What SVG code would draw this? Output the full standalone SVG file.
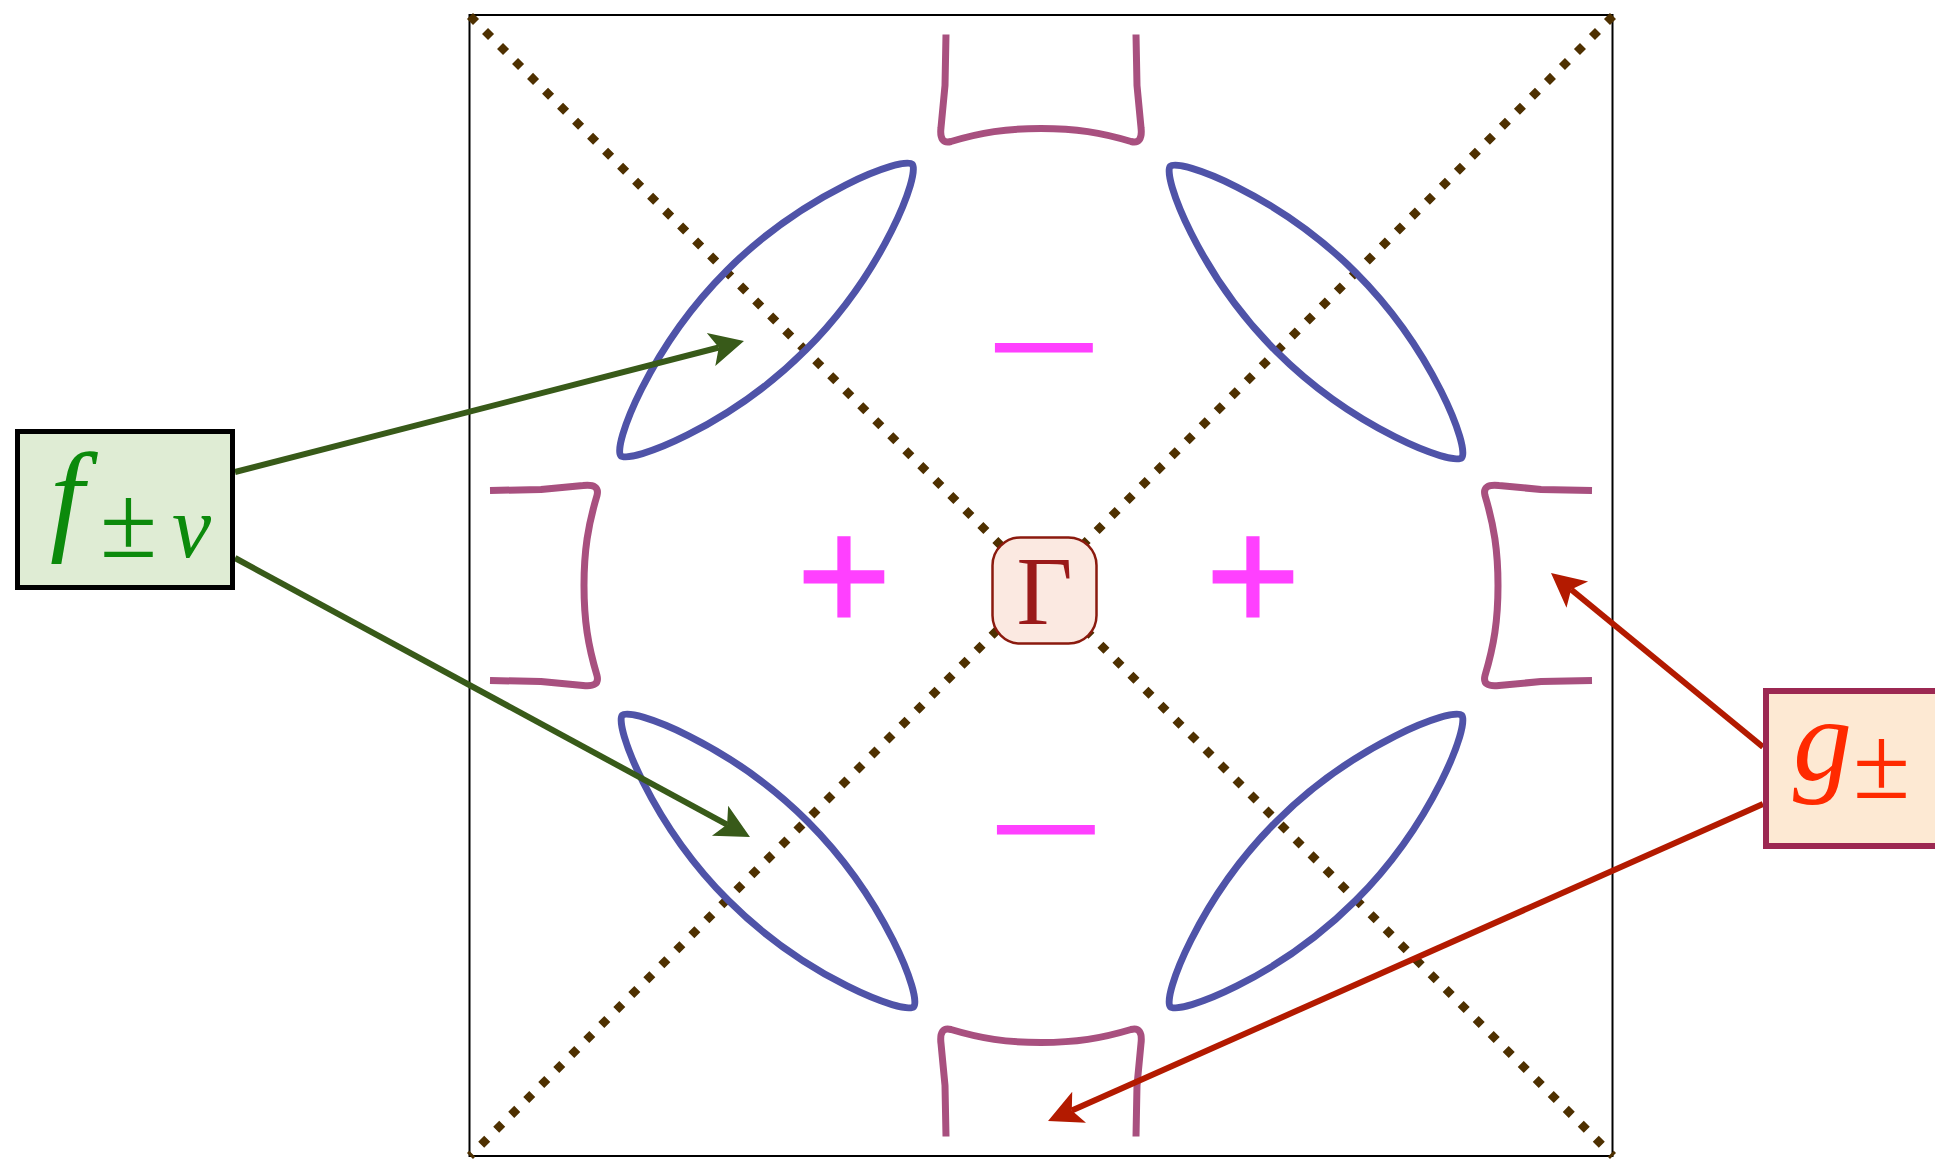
<svg xmlns="http://www.w3.org/2000/svg" width="1935" height="1162" viewBox="0 0 1935 1162">
<defs>
<style>
.frame{fill:none;stroke:#000;stroke-width:2}
.diag{fill:none;stroke:#4e3000;stroke-width:8.5;stroke-dasharray:8.5 12.7}
.lens{fill:none;stroke:#4f53a8;stroke-width:7;stroke-linejoin:round}
.pocket{fill:none;stroke:#a8507f;stroke-width:7;stroke-linejoin:round}
.sign{font-family:"DejaVu Sans",sans-serif;fill:#ff40ff;text-anchor:middle}
.plus{stroke:#ff40ff;stroke-width:3}
.serif{font-family:"Liberation Serif","DejaVu Serif",serif}
.it{font-style:italic}
.green{fill:none;stroke:#385a19;stroke-width:6}
.red{fill:none;stroke:#b31a00;stroke-width:6}
</style>
<path id="lensShape" d="M -206,0 C -206,-12 -110,-56 0,-56 C 110,-56 206,-12 206,0 C 206,12 110,56 0,56 C -110,56 -206,12 -206,0 Z"/>
<path id="pocketShape" d="M -95,-551 L -96,-500 L -100,-458 Q -102,-441 -90,-444 C -60,-453 -35,-457 0,-457 C 35,-457 60,-453 90,-444 Q 102,-441 100,-458 L 96,-500 L 95,-551"/>
<marker id="ahG" markerUnits="userSpaceOnUse" markerWidth="40" markerHeight="40" viewBox="0 -20 40 40" refX="8" refY="0" orient="auto">
<path d="M0,-17 L34,0 L0,17 L8,0 Z" fill="#385a19"/>
</marker>
<marker id="ahR" markerUnits="userSpaceOnUse" markerWidth="40" markerHeight="40" viewBox="0 -20 40 40" refX="8" refY="0" orient="auto">
<path d="M0,-17 L34,0 L0,17 L8,0 Z" fill="#b31a00"/>
</marker>
</defs>
<rect width="1935" height="1162" fill="#fff"/>
<g id="zone">
<rect class="frame" x="469.5" y="15" width="1143" height="1141"/>
<line class="diag" x1="470" y1="16" x2="1613" y2="1156"/>
<line class="diag" x1="1613" y1="16" x2="470" y2="1156"/>
</g>
<g id="pockets">
<use href="#pocketShape" class="pocket" transform="translate(1041,585.5)"/>
<use href="#pocketShape" class="pocket" transform="translate(1041,585.5) rotate(-90)"/>
<use href="#pocketShape" class="pocket" transform="translate(1041,585.5) rotate(90)"/>
<use href="#pocketShape" class="pocket" transform="translate(1041,585.5) rotate(180)"/>
</g>
<g id="lenses">
<use href="#lensShape" class="lens" transform="translate(766.5,310) rotate(-45)"/>
<use href="#lensShape" class="lens" transform="translate(1316,312) rotate(45)"/>
<use href="#lensShape" class="lens" transform="translate(768,861) rotate(45)"/>
<use href="#lensShape" class="lens" transform="translate(1316,861) rotate(-45)"/>
</g>
<g id="signs">
<text class="sign" x="1044" y="384" font-size="115" textLength="131" lengthAdjust="spacingAndGlyphs">−</text>
<text class="sign" x="1046" y="866" font-size="115" textLength="131" lengthAdjust="spacingAndGlyphs">−</text>
<text class="sign plus" x="844" y="616" font-size="124">+</text>
<text class="sign plus" x="1253" y="616" font-size="124">+</text>
</g>
<g id="connectors">
<line class="green" x1="235" y1="472" x2="718.8" y2="347.5" marker-end="url(#ahG)"/>
<line class="green" x1="235" y1="558" x2="727.1" y2="824.6" marker-end="url(#ahG)"/>
<line class="red" x1="1763" y1="747" x2="1571.1" y2="589.5" marker-end="url(#ahR)"/>
<line class="red" x1="1763" y1="804" x2="1071.8" y2="1110.5" marker-end="url(#ahR)"/>
</g>
<g id="node-gamma">
<rect x="992.5" y="537.5" width="104" height="106" rx="28" fill="#fbe9e1" stroke="#8b1a0e" stroke-width="2.5"/>
<text class="serif" x="1044.5" y="624" font-size="97" fill="#9a1a1a" text-anchor="middle">Γ</text>
</g>
<g id="node-f">
<rect x="17.5" y="431.5" width="215" height="156" fill="#dfecd4" stroke="#000" stroke-width="5"/>
<text class="serif" fill="#0c8a0c"><tspan class="it" x="50" y="538" font-size="122">f</tspan><tspan x="100" y="557" font-size="104">±</tspan><tspan class="it" x="172" y="557" font-size="88">v</tspan></text>
</g>
<g id="node-g">
<rect x="1766" y="691" width="200" height="155" fill="#fde9d3" stroke="#9c2852" stroke-width="6"/>
<text class="serif" fill="#ff2a00"><tspan class="it" x="1793" y="780" font-size="118">g</tspan><tspan x="1853" y="798" font-size="104">±</tspan></text>
</g>
</svg>
